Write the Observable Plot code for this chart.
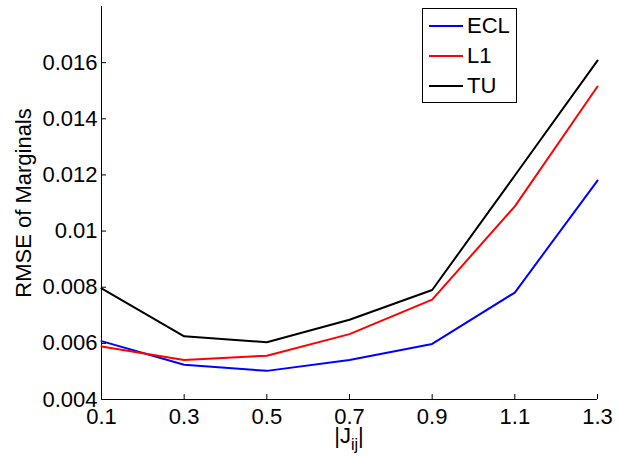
<!DOCTYPE html>
<html>
<head>
<meta charset="utf-8">
<script src="https://cdn.jsdelivr.net/npm/d3@7"></script>
<script src="https://cdn.jsdelivr.net/npm/@observablehq/plot@0.6"></script>
<style>
  body { margin: 0; background: #fff; }
  #wrap { position: relative; width: 619px; height: 456px; font-family: "Liberation Sans", Arial, Helvetica, sans-serif; }
  #legend { position: absolute; left: 422px; top: 8px; width: 95px; height: 95px; border: 1px solid #000; background: #fff; box-sizing: border-box; }
  .entry { position: absolute; left: 0; height: 30px; width: 93px; font-size: 22px; }
  .entry .sw { position: absolute; left: 6px; width: 34px; height: 0; border-top: 2px solid; }
  .entry .lb { position: absolute; left: 44px; line-height: 22px; }
  #xlabel { position: absolute; left: 0; width: 698px; text-align: center; top: 426px; font-size: 22px; line-height: 20px; }
  #xlabel sub { font-size: 16px; vertical-align: -7px; line-height: 0; }
</style>
</head>
<body>
<div id="wrap"></div>
<script>
const xValues = [0.1, 0.3, 0.5, 0.7, 0.9, 1.1, 1.3];
const seriesNames = ["ECL", "L1", "TU"];
const seriesColors = ["#0000ff", "#ff0000", "#000000"];
const ecl = [0.00608, 0.00524, 0.00502, 0.00541, 0.00598, 0.00781, 0.0118];
const l1  = [0.00589, 0.00541, 0.00556, 0.00633, 0.00756, 0.01088, 0.01515];
const tu  = [0.00796, 0.00625, 0.00604, 0.00684, 0.00790, 0.01198, 0.01607];
const yTicks = [0.004, 0.006, 0.008, 0.010, 0.012, 0.014, 0.016];
const xTickLabels = ["0.1", "0.3", "0.5", "0.7", "0.9", "1.1", "1.3"];

const seriesValues = [ecl, l1, tu];
const rows = [];
seriesNames.forEach((s, i) => xValues.forEach((x, j) => rows.push({series: s, x, y: seriesValues[i][j]})));

const chart = Plot.plot({
  width: 619,
  height: 456,
  marginLeft: 101,
  marginRight: 22,
  marginTop: 6,
  marginBottom: 57,
  style: {fontFamily: '"Liberation Sans", Arial, Helvetica, sans-serif', fontSize: "22px", background: "#fff", overflow: "visible"},
  x: {domain: [0.1, 1.3]},
  y: {domain: [0.004, 0.018]},
  color: {domain: seriesNames, range: seriesColors},
  marks: [
    Plot.ruleX([0.1], {stroke: "#000", strokeWidth: 1}),
    Plot.ruleY([0.004], {stroke: "#000", strokeWidth: 1}),
    Plot.axisX({ticks: xValues, tickFormat: (d, i) => xTickLabels[i], tickSize: -5, tickPadding: 14, label: null, fontSize: 22}),
    Plot.axisY({ticks: yTicks, tickFormat: d => String(+d.toFixed(3)), tickSize: -5, tickPadding: 9, label: "RMSE of Marginals", labelAnchor: "center", labelOffset: 86, labelArrow: "none", fontSize: 22}),
    Plot.line(rows, {x: "x", y: "y", z: "series", stroke: "series", strokeWidth: 2})
  ]
});
const wrap = document.getElementById("wrap");
wrap.appendChild(chart);

const legend = document.createElement("div");
legend.id = "legend";
seriesNames.forEach((s, i) => {
  const e = document.createElement("div");
  e.className = "entry";
  e.style.top = (2 + i * 30) + "px";
  e.innerHTML = `<div class="sw" style="top:14px;border-color:${seriesColors[i]}"></div><div class="lb" style="top:4px">${s}</div>`;
  legend.appendChild(e);
});
wrap.appendChild(legend);

const xl = document.createElement("div");
xl.id = "xlabel";
xl.innerHTML = "|J<sub>ij</sub>|";
wrap.appendChild(xl);
</script>
</body>
</html>
